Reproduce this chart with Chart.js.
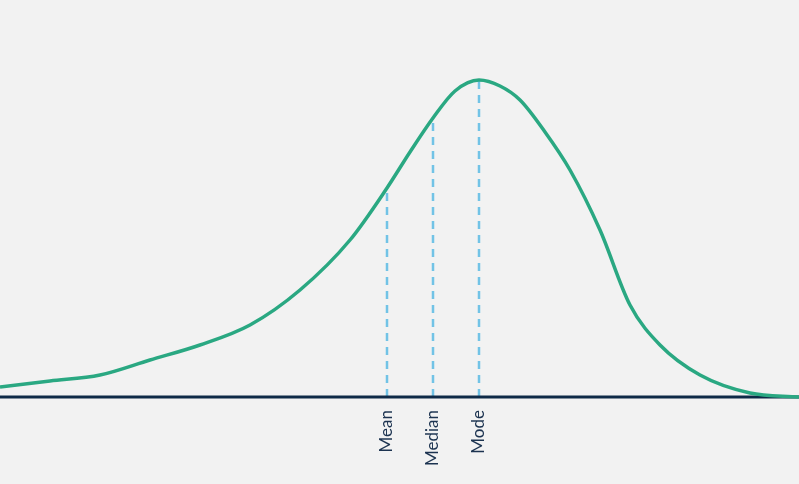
<!DOCTYPE html>
<html>
<head>
<meta charset="utf-8">
<script src="https://cdn.jsdelivr.net/npm/chart.js@4"></script>
<style>
  html, body { margin: 0; padding: 0; background: #f2f2f2; }
  #wrap { width: 799px; height: 484px; }
</style>
</head>
<body>
<div id="wrap"><canvas id="chart"></canvas></div>
<script>
// curve: x position and height above the baseline
let curveX = [0, 50, 100, 150, 200, 250, 300, 350, 387, 410, 433, 455, 479, 500, 520, 545, 570, 600, 630, 660, 700, 750, 799];
let curveY = [10, 16, 22, 37, 52, 72, 107, 157, 209, 245, 279, 306, 317, 311, 297, 265, 227, 167, 92, 52, 22, 4, 0];

let markerNames = ['Mean', 'Median', 'Mode'];
let markerX = [387, 433, 479];
let markerY = [209, 279, 317];

let green = '#2aa882';
let blue = '#72c3e6';
let navy = '#0e2a47';

let datasets = [{
  data: curveX.map((x, i) => ({x: x, y: curveY[i]})),
  borderColor: green,
  borderWidth: 3.5,
  pointRadius: 0,
  tension: 0.4,
  cubicInterpolationMode: 'monotone'
}, {
  data: [{x: 0, y: 0}, {x: 799, y: 0}],
  borderColor: navy,
  borderWidth: 3,
  pointRadius: 0
}];

markerX.forEach((x, i) => {
  datasets.push({
    data: [{x: x, y: 0}, {x: x, y: markerY[i]}],
    borderColor: blue,
    borderWidth: 2.5,
    borderDash: [8, 6],
    pointRadius: 0
  });
});

let labelPlugin = {
  id: 'labels',
  afterDraw(chart) {
    let ctx = chart.ctx;
    let xs = chart.scales.x;
    let ys = chart.scales.y;
    ctx.save();
    ctx.fillStyle = '#1c3350';
    ctx.font = '17px Lato';
    ctx.textAlign = 'right';
    ctx.textBaseline = 'middle';
    markerNames.forEach((name, i) => {
      ctx.save();
      ctx.translate(xs.getPixelForValue(markerX[i]), ys.getPixelForValue(0) + 13);
      ctx.rotate(-Math.PI / 2);
      ctx.fillText(name, 0, 0);
      ctx.restore();
    });
    ctx.restore();
  }
};

new Chart('chart', {
  type: 'line',
  data: { datasets: datasets },
  plugins: [labelPlugin],
  options: {
    responsive: true,
    maintainAspectRatio: false,
    animation: false,
    layout: { padding: 0 },
    plugins: { legend: { display: false }, tooltip: { enabled: false } },
    scales: {
      x: { type: 'linear', min: 0, max: 799, display: false },
      y: { min: -87, max: 397, display: false }
    }
  }
});
</script>
</body>
</html>
